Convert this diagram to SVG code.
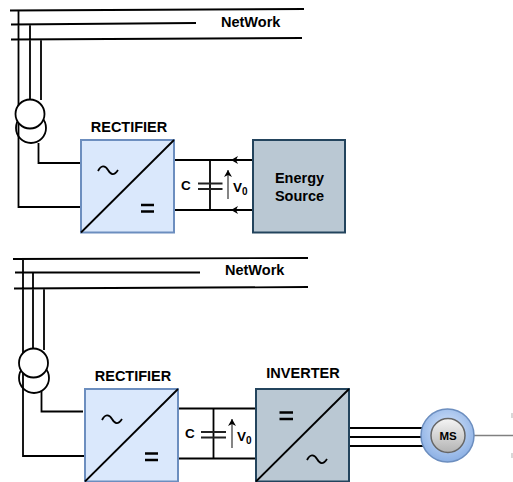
<svg xmlns="http://www.w3.org/2000/svg" width="513" height="482" viewBox="0 0 513 482">
<style>
.w{fill:none;stroke:#000;stroke-width:1.800}
.conv{fill:#dae8fc;stroke:#6c8ebf;stroke-width:2}
.dark{fill:#bac8d3;stroke:#23445d;stroke-width:2}
.t{font-family:"Liberation Sans",Arial,sans-serif;font-weight:700;fill:#000}
.s{fill:none;stroke:#000;stroke-width:1.800}
.eq{fill:none;stroke:#000;stroke-width:2.500}
.cap{fill:none;stroke:#222;stroke-width:1.800}
.ar{fill:none;stroke:#333;stroke-width:1.200}
</style>
<defs>
<marker id="a" markerWidth="8" markerHeight="8" refX="7" refY="4" orient="auto" markerUnits="userSpaceOnUse"><path d="M0 0L7 4L0 8L2 4Z" fill="#000"/></marker>
<radialGradient id="mo" cx=".5" cy=".4" r=".7"><stop offset="0" stop-color="#dae8fc"/><stop offset="1" stop-color="#7ea6e0"/></radialGradient>
<linearGradient id="mi" x1="0" y1="0" x2="0" y2="1"><stop offset="0" stop-color="#f5f5f5"/><stop offset="1" stop-color="#b3b3b3"/></linearGradient>
</defs>
<g id="connectors">
<path class="w" d="M10 10.500L304 9M11 24.500L196 23M11 39.500L302 38M18.500 10V207H81M30 24V100M41 39V100M38.500 143V163H80"/>
<path class="w" d="M174 160H253M174 210H253M210 160V210"/>
<path class="cap" d="M198 183.500H222.500M198 189H222.500"/>
<path class="w" marker-end="url(#a)" d="M253 160H231"/>
<path class="w" marker-end="url(#a)" d="M253 210H231"/>
<path class="ar" marker-end="url(#a)" d="M228 199V170"/>
<path class="w" d="M13 259L308 258M15 272.500H200M14 288.500L308 287M23 259V456H85M33 272V350M44 288V350M41.500 391V411.500H83"/>
<path class="w" d="M178 408.500H256M178 458.500H256M213.500 408.500V458.500"/>
<path class="cap" d="M201 432H226M201 437.500H226"/>
<path class="ar" marker-end="url(#a)" d="M232 448V419"/>
<path class="w" d="M349 428H425M349 437H425M349 446H425"/>
<path fill="none" stroke="#808080" stroke-width="1.500" d="M474 435.500H513"/>
<path fill="none" stroke="#ccc" stroke-width="1.500" d="M512 413V418M512 453V458"/>
</g>
<g id="t1"><circle class="w" cx="31" cy="128" r="15"/><circle cx="30" cy="114" r="14.500" fill="#fff" stroke="#000" stroke-width="1.800"/></g>
<g id="t2"><circle class="w" cx="34" cy="378" r="15"/><circle cx="33.500" cy="363" r="14.500" fill="#fff" stroke="#000" stroke-width="1.800"/></g>
<g id="network1"><text class="t" x="221" y="27" font-size="14.500">NetWork</text></g>
<g id="network2"><text class="t" x="225" y="275" font-size="14.500">NetWork</text></g>
<g id="rectifier1">
<rect class="conv" x="81" y="140" width="93" height="92.500"/>
<path class="w" d="M81 232.500L174 140"/>
<path class="s" d="M98 171C101 165 105 165 108 170S114 176 118 170"/>
<path class="eq" d="M141 205H154M141 211.500H154"/>
<text class="t" x="129" y="132" font-size="14.500" text-anchor="middle">RECTIFIER</text>
</g>
<g id="rectifier2">
<rect class="conv" x="85" y="389" width="93" height="92.500"/>
<path class="w" d="M85 481.500L178 389"/>
<path class="s" d="M102 420C105 414 109 414 112 419S118 425 122 419"/>
<path class="eq" d="M145 453.500H158M145 460H158"/>
<text class="t" x="133" y="381" font-size="14.500" text-anchor="middle">RECTIFIER</text>
</g>
<g id="source">
<rect class="dark" x="253" y="140" width="92" height="92.500"/>
<text class="t" x="299.500" y="183" font-size="14.500" text-anchor="middle">Energy</text>
<text class="t" x="299.500" y="201" font-size="14.500" text-anchor="middle">Source</text>
</g>
<g id="inverter">
<rect class="dark" x="256" y="389" width="93" height="92.500"/>
<path class="w" d="M256 481.500L349 389"/>
<path class="eq" d="M279.500 412.500H293M279.500 419H293"/>
<path class="s" d="M307 460C310 454 314 454 317 459S323 465 327 459"/>
<text class="t" x="303" y="378" font-size="14.500" text-anchor="middle">INVERTER</text>
</g>
<g id="c1"><text class="t" x="181" y="189.500" font-size="13.500">C</text><text class="t" x="233" y="192" font-size="13.500">V<tspan font-size="10" dy="3">0</tspan></text></g>
<g id="c2"><text class="t" x="185" y="438" font-size="13.500">C</text><text class="t" x="237" y="441" font-size="13.500">V<tspan font-size="10" dy="3">0</tspan></text></g>
<g id="motor">
<circle cx="447.500" cy="435.500" r="26.500" fill="url(#mo)" stroke="#6c8ebf" stroke-width="1.500"/>
<circle cx="448" cy="435.500" r="17" fill="url(#mi)" stroke="#666" stroke-width="1.500"/>
<text class="t" x="448" y="439.500" font-size="11.500" text-anchor="middle">MS</text>
</g>
</svg>
